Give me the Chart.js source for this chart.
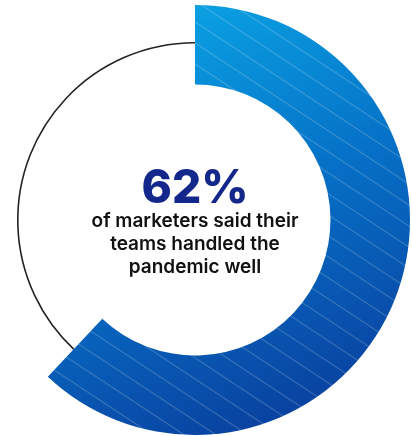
<!DOCTYPE html>
<html>
<head>
<meta charset="utf-8">
<script src="https://cdn.jsdelivr.net/npm/chart.js@4/dist/chart.umd.min.js"></script>
<style>
  html, body { margin: 0; padding: 0; background: #fff; overflow: hidden; }
  body { width: 412px; height: 436px; position: relative; }
  #donut { position: absolute; left: -20px; top: 5px; }
</style>
</head>
<body>
<canvas id="donut" width="430" height="430"></canvas>
<script>
const segments = ['Handled well', 'Other'];
const shares = [62, 38];
const headline = '62%';
const captionLines = ['of marketers said their', 'teams handled the', 'pandemic well'];

let cachedFill = null;

// gradient + faint diagonal stripes, painted once on an offscreen canvas
const makeFill = (chart) => {
    if (cachedFill) return cachedFill;
    const w = chart.width, h = chart.height;
    const off = document.createElement('canvas');
    off.width = w;
    off.height = h;
    const c = off.getContext('2d');
    const grad = c.createLinearGradient(w * 0.45, 0, w * 0.85, h);
    grad.addColorStop(0, '#0aa2e3');
    grad.addColorStop(0.45, '#0670c6');
    grad.addColorStop(1, '#0a3a9a');
    c.fillStyle = grad;
    c.fillRect(0, 0, w, h);
    c.strokeStyle = 'rgba(255,255,255,0.18)';
    c.lineWidth = 1.3;
    const slope = 0.66;
    for (let k = -h * 2; k < h * 2; k += 21) {
        c.beginPath();
        c.moveTo(0, k);
        c.lineTo(w, k + w * slope);
        c.stroke();
    }
    cachedFill = chart.ctx.createPattern(off, 'no-repeat');
    return cachedFill;
};

const restLine = {
    id: 'restLine',
    afterDatasetsDraw(chart) {
        const arc = chart.getDatasetMeta(0).data[1];
        if (!arc) return;
        const { x, y, startAngle, endAngle, innerRadius, outerRadius } = arc.getProps(['x', 'y', 'startAngle', 'endAngle', 'innerRadius', 'outerRadius'], true);
        const ctx = chart.ctx;
        ctx.save();
        ctx.beginPath();
        ctx.arc(x, y, (innerRadius + outerRadius) / 2 + 2, startAngle, endAngle);
        ctx.strokeStyle = '#222';
        ctx.lineWidth = 1.6;
        ctx.stroke();
        ctx.restore();
    }
};

const centerText = {
    id: 'centerText',
    afterDraw(chart) {
        const arc = chart.getDatasetMeta(0).data[0];
        if (!arc) return;
        const ctx = chart.ctx;
        const x = arc.x, y = arc.y;
        ctx.save();
        ctx.textAlign = 'center';
        ctx.textBaseline = 'alphabetic';
        ctx.fillStyle = '#14288c';
        ctx.font = '800 46px Inter, "Open Sans", sans-serif';
        ctx.fillText(headline, x, y - 17);
        ctx.fillStyle = '#111';
        ctx.font = '600 19px Inter, "Open Sans", sans-serif';
        captionLines.forEach((line, i) => {
            ctx.fillText(line, x, y + 7 + i * 23);
        });
        ctx.restore();
    }
};

new Chart(document.getElementById('donut'), {
    type: 'doughnut',
    data: {
        labels: segments,
        datasets: [{
            data: shares,
            backgroundColor: (ctx) => ctx.dataIndex === 0 ? makeFill(ctx.chart) : 'rgba(0,0,0,0)',
            borderWidth: 0,
            hoverOffset: 0
        }]
    },
    options: {
        responsive: false,
        animation: false,
        cutout: '63%',
        layout: { padding: 0 },
        plugins: {
            legend: { display: false },
            tooltip: { enabled: false }
        }
    },
    plugins: [restLine, centerText]
});
</script>
</body>
</html>
